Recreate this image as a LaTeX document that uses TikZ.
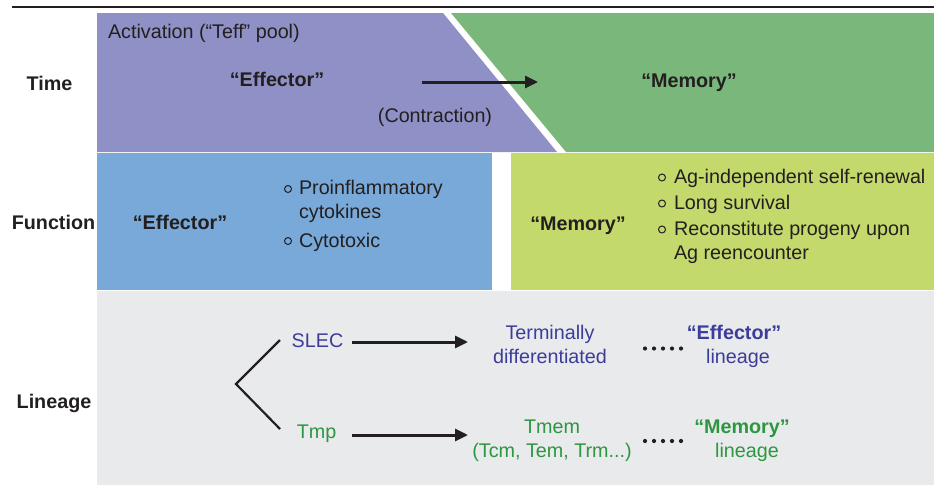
\documentclass[tikz,border=0pt]{standalone}
\usepackage{fontspec}
\setmainfont{Liberation Sans}
\usetikzlibrary{arrows.meta}
\definecolor{purp}{HTML}{8F90C5}
\definecolor{grn}{HTML}{79B77B}
\definecolor{blu}{HTML}{79A9D9}
\definecolor{ylw}{HTML}{C3D96B}
\definecolor{gry}{HTML}{E9EAEC}
\definecolor{ink}{HTML}{231F20}
\definecolor{tblue}{HTML}{3C3C9B}
\definecolor{tgreen}{HTML}{2D9641}
\tikzset{
  txt/.style={inner sep=0pt, outer sep=0pt, text=ink, font=\fontsize{19.75}{23}\selectfont},
  btxt/.style={txt, font=\fontsize{19.75}{23}\selectfont\bfseries},
  arr/.style={draw=ink, line width=3pt, -{Triangle[length=13pt,width=12pt]}},
  branch/.style={draw=ink, line width=2.2pt},
  bul/.style={draw=ink, line width=1pt},
  dot/.style={fill=ink},
}
\begin{document}
\begin{tikzpicture}[x=1pt,y=-1pt]
\useasboundingbox (0,0) rectangle (934,485);
% top rule
\draw[ink, line width=2pt] (12,7) -- (934,7);
% panels
\fill[purp] (97,13) -- (443,13) -- (557,152) -- (97,152) -- cycle;
\fill[grn] (451,13) -- (934,13) -- (934,152) -- (566,152) -- cycle;
\fill[blu] (97,153) rectangle (492,290);
\fill[ylw] (511,153) rectangle (934,290);
\fill[gry] (97,291) rectangle (934,485);
% row labels
\node[btxt, anchor=base] (time) at (49.5,90.5) {Time};
\node[btxt, anchor=base] (func) at (53.5,229) {Function};
\node[btxt, anchor=base] (lin) at (54,408) {Lineage};
% time row
\node[txt, anchor=base west] (act) at (108,38) {Activation (“Teff” pool)};
\node[btxt, anchor=base] (effT) at (277,86) {“Effector”};
\node[txt, anchor=base] (contr) at (435,122) {(Contraction)};
\node[btxt, anchor=base] (memT) at (689,87) {“Memory”};
\coordinate (ta) at (422,82);
\coordinate (tb) at (538,82);
\draw[arr] (ta) -- (tb);
% function row
\node[btxt, anchor=base] (effF) at (180,229) {“Effector”};
\node[txt, anchor=base west] (p1) at (299,194) {Proinflammatory};
\node[txt, anchor=base west] (p1b) at (299,218) {cytokines};
\node[txt, anchor=base west] (p2) at (299,247) {Cytotoxic};
\draw[bul] (288,189) circle (3.5);
\draw[bul] (288,241) circle (3.5);
\node[btxt, anchor=base] (memF) at (578,230) {“Memory”};
\node[txt, anchor=base west] (m1) at (674,183) {Ag-independent self-renewal};
\node[txt, anchor=base west] (m2) at (674,209) {Long survival};
\node[txt, anchor=base west] (m3) at (674,235) {Reconstitute progeny upon};
\node[txt, anchor=base west] (m3b) at (674,259) {Ag reencounter};
\draw[bul] (662,177.5) circle (3.5);
\draw[bul] (662,203.5) circle (3.5);
\draw[bul] (662,229.5) circle (3.5);
% lineage row
\node[txt, text=tblue, anchor=base] (slec) at (317.5,347) {SLEC};
\node[txt, text=tgreen, anchor=base] (tmp) at (316.5,438) {Tmp};
\coordinate (apex) at (236,384);
\coordinate (up) at (280,340);
\coordinate (lo) at (280,429);
\draw[branch] (up) -- (apex) -- (lo);
\node[txt, text=tblue, anchor=base] (term1) at (550,339) {Terminally};
\node[txt, text=tblue, anchor=base] (term2) at (550,363) {differentiated};
\node[btxt, text=tblue, anchor=base] (effL) at (734,339) {“Effector”};
\node[txt, text=tblue, anchor=base] (effL2) at (738,363) {lineage};
\node[txt, text=tgreen, anchor=base] (tmem1) at (552,433) {Tmem};
\node[txt, text=tgreen, anchor=base] (tmem2) at (552,457) {(Tcm, Tem, Trm...)};
\node[btxt, text=tgreen, anchor=base] (memL) at (742,433) {“Memory”};
\node[txt, text=tgreen, anchor=base] (memL2) at (747,457) {lineage};
\coordinate (sa) at (352,342);
\coordinate (sb) at (468,342);
\coordinate (qa) at (352,435);
\coordinate (qb) at (468,435);
\draw[arr] (sa) -- (sb);
\draw[arr] (qa) -- (qb);
\foreach \x in {645,654,663,672,681}{
  \fill[dot] (\x,348.5) circle (2.1);
  \fill[dot] (\x,441) circle (2.1);
}
\end{tikzpicture}
\end{document}
